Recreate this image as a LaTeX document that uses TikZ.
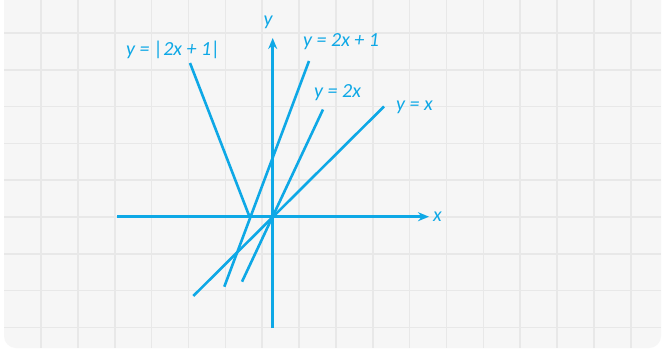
\documentclass[tikz,border=0pt]{standalone}
\usepackage{fontspec}
\setmainfont{Carlito}
\definecolor{lineblue}{RGB}{14,168,230}
\definecolor{cardgray}{RGB}{246,246,246}
\definecolor{gridgray}{RGB}{232,232,232}
\usetikzlibrary{arrows.meta}

\begin{document}
\begin{tikzpicture}[x=1pt, y=-1pt, >={Stealth[length=11pt, width=9pt]},
  graph/.style={lineblue, line width=2.6pt},
  lbl/.style={lineblue, font=\fontsize{20}{22}\selectfont\itshape, inner sep=0pt, anchor=west}]
  % Nền và lưới
  \useasboundingbox (0,0) rectangle (663,351);
  \fill[white] (0,0) rectangle (663,351);
  \begin{scope}
    \clip (0,0) rectangle (663,351);
    \fill[cardgray, rounded corners=12pt] (4,-20) rectangle (661,348);
  \end{scope}
  \foreach \i in {0,...,16}
    \draw[gridgray, line width=1.6pt] (41+36.86*\i,0) -- (41+36.86*\i,348);
  \foreach \j in {0,...,8}
    \draw[gridgray, line width=1.6pt] (4,33+36.8*\j) -- (661,33+36.8*\j);
  % Các trục tọa độ
  \coordinate (O) at (272.7,216.7);
  \coordinate (xs) at (117,216.7);
  \coordinate (xe) at (429,216.7);
  \coordinate (ys) at (272.7,328);
  \coordinate (ye) at (272.7,38);
  \draw[graph, ->] (xs) -- (xe);
  \draw[graph, ->] (ys) -- (ye);
  \node[lbl, anchor=center] (xlab) at (437.5,217) {x};
  \node[lbl, anchor=center] (ylab) at (268,22) {y};
  % Các đồ thị
  \coordinate (V) at (249.5,216.7);
  \coordinate (Vl) at (190,63);
  \coordinate (Pa) at (224.3,286.7);
  \coordinate (Pb) at (309,61);
  \coordinate (Qa) at (242,281.7);
  \coordinate (Qb) at (323,109.5);
  \coordinate (Ra) at (193.3,296);
  \coordinate (Rb) at (384,106.5);
  \draw[graph] (Vl) -- (V);
  \draw[graph] (Pa) -- (Pb);
  \draw[graph] (Qa) -- (Qb);
  \draw[graph] (Ra) -- (Rb);
  % Nhãn
  \node[lbl] (labs) at (126,50) {y = |2x + 1|};
  \node[lbl] (lab1) at (303,42) {y = 2x + 1};
  \node[lbl] (lab2) at (314,93) {y = 2x};
  \node[lbl] (lab3) at (396,107) {y = x};
\end{tikzpicture}
\end{document}
